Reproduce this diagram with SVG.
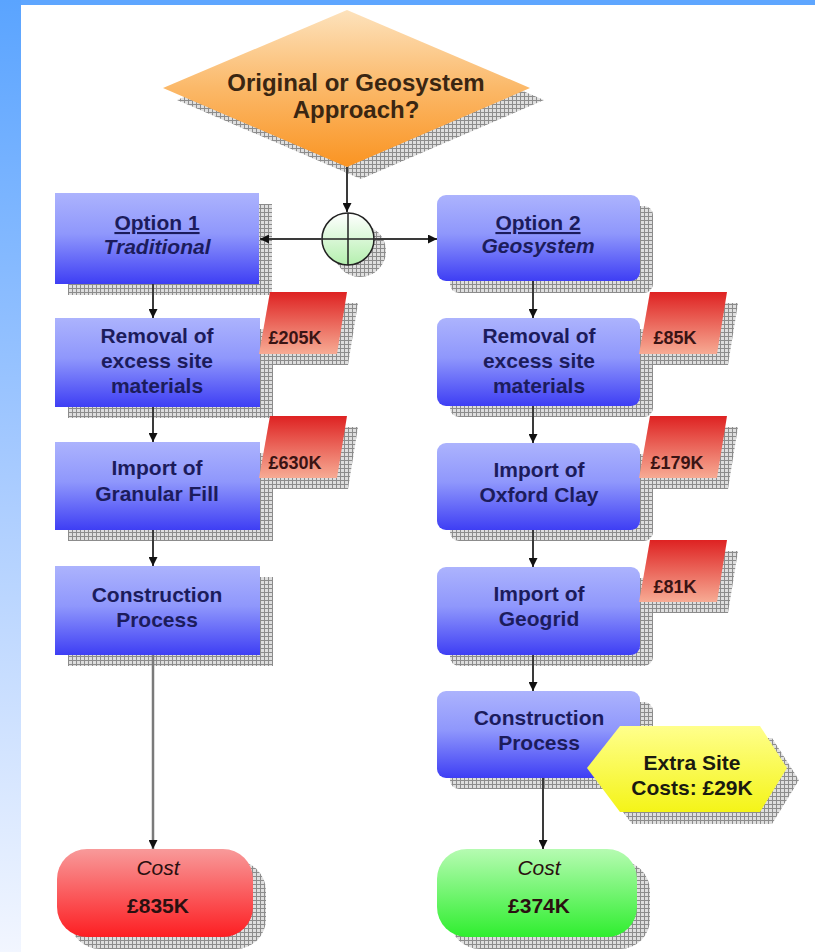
<svg xmlns="http://www.w3.org/2000/svg" width="815" height="952" viewBox="0 0 815 952">
<defs>
<linearGradient id="side" x1="0" y1="0" x2="0" y2="1"><stop offset="0" stop-color="#5aa4ff"/><stop offset="0.5" stop-color="#a8cbff"/><stop offset="1" stop-color="#f2f6ff"/></linearGradient>
<linearGradient id="blue" x1="0" y1="0" x2="0" y2="1"><stop offset="0" stop-color="#acb3fd"/><stop offset="0.45" stop-color="#8f97fc"/><stop offset="1" stop-color="#3e3ef4"/></linearGradient>
<linearGradient id="orange" x1="0" y1="0" x2="0" y2="1"><stop offset="0" stop-color="#fde2bc"/><stop offset="0.5" stop-color="#fbb868"/><stop offset="1" stop-color="#fa9422"/></linearGradient>
<linearGradient id="tag" x1="0" y1="0" x2="0" y2="1"><stop offset="0" stop-color="#de2222"/><stop offset="1" stop-color="#f7ab94"/></linearGradient>
<linearGradient id="red" x1="0" y1="0" x2="0" y2="1"><stop offset="0" stop-color="#f89a9a"/><stop offset="1" stop-color="#fd1e22"/></linearGradient>
<linearGradient id="green" x1="0" y1="0" x2="0" y2="1"><stop offset="0" stop-color="#b6fbb2"/><stop offset="1" stop-color="#2fee2f"/></linearGradient>
<linearGradient id="yellow" x1="0" y1="0" x2="0" y2="1"><stop offset="0" stop-color="#ffff8c"/><stop offset="1" stop-color="#f4f418"/></linearGradient>
<linearGradient id="circ" x1="0" y1="0" x2="0" y2="1"><stop offset="0" stop-color="#ffffff"/><stop offset="1" stop-color="#b4efae"/></linearGradient>
<pattern id="grid" width="4" height="4" patternUnits="userSpaceOnUse"><rect width="4" height="4" fill="#dedede"/><path d="M0 0.5H4M0.5 0V4" stroke="#8c8c8c" stroke-width="1"/></pattern>
<marker id="arr" viewBox="0 0 10 10" refX="10" refY="5" markerWidth="9" markerHeight="9" markerUnits="userSpaceOnUse" orient="auto"><path d="M0 0L10 5L0 10z" fill="#111"/></marker>
<style>
.sh{fill:url(#grid)}
.box{fill:url(#blue)}
.bt{font-family:"Liberation Sans",Arial,sans-serif;font-weight:bold;font-size:21px;fill:#1c1c5c;text-anchor:middle}
.it{font-style:italic}
.ul{text-decoration:underline}
.dt{font-family:"Liberation Sans",Arial,sans-serif;font-weight:bold;font-size:24px;fill:#3a2612;text-anchor:middle}
.tg{fill:url(#tag)}
.tt{font-family:"Liberation Sans",Arial,sans-serif;font-weight:bold;font-size:18px;fill:#3a1414;text-anchor:middle}
.ct{font-family:"Liberation Sans",Arial,sans-serif;font-size:21px;fill:#2a1010;text-anchor:middle}
.ht{font-family:"Liberation Sans",Arial,sans-serif;font-weight:bold;font-size:21px;fill:#1a1a10;text-anchor:middle}
.ln{stroke:#3a3a3a;stroke-width:2;fill:none}
</style>
</defs>
<rect width="815" height="952" fill="#ffffff"/>
<rect x="0" y="0" width="815" height="5" fill="#5ea6ff"/>
<rect x="0" y="0" width="21" height="952" fill="url(#side)"/>

<g id="decision">
<polygon class="sh" points="177,100 361,22 544,100 361,179"/>
<polygon points="163,88 347,10 530,88 347,167" fill="url(#orange)"/>
<text class="dt" x="356" y="91">Original or Geosystem</text>
<text class="dt" x="356" y="118">Approach?</text>
</g>

<g id="junction">
<circle class="sh" cx="360" cy="251" r="26"/>
<circle cx="348" cy="239" r="26" fill="url(#circ)" stroke="#222" stroke-width="1.5"/>
<path d="M322 239H374M348 213V265" stroke="#222" stroke-width="1.5"/>
</g>

<g id="opt1">
<rect class="sh" x="68" y="204" width="204" height="91"/>
<rect class="box" x="55" y="193" width="204" height="91"/>
<text class="bt ul" x="157" y="230">Option 1</text>
<text class="bt it" x="157" y="254">Traditional</text>
</g>
<g id="rem1">
<rect class="sh" x="68" y="329" width="205" height="89"/>
<rect class="box" x="55" y="318" width="205" height="89"/>
<text class="bt" x="157" y="343">Removal of</text>
<text class="bt" x="157" y="368">excess site</text>
<text class="bt" x="157" y="393">materials</text>
</g>
<g id="tag1">
<polygon class="sh" points="281,303 358,303 348,365 270,365"/>
<polygon class="tg" points="270,292 347,292 337,354 259,354"/>
<text class="tt" x="295" y="344">£205K</text>
</g>
<g id="imp1">
<rect class="sh" x="68" y="453" width="205" height="88"/>
<rect class="box" x="55" y="442" width="205" height="88"/>
<text class="bt" x="157" y="475">Import of</text>
<text class="bt" x="157" y="501">Granular Fill</text>
</g>
<g id="tag2">
<polygon class="sh" points="281,427 358,427 348,489 270,489"/>
<polygon class="tg" points="270,416 347,416 337,478 259,478"/>
<text class="tt" x="295" y="469">£630K</text>
</g>
<g id="con1">
<rect class="sh" x="68" y="577" width="205" height="89"/>
<rect class="box" x="55" y="566" width="205" height="89"/>
<text class="bt" x="157" y="602">Construction</text>
<text class="bt" x="157" y="627">Process</text>
</g>
<g id="cost1">
<rect class="sh" x="70" y="861" width="196" height="88" rx="30"/>
<rect x="57" y="849" width="196" height="88" rx="30" fill="url(#red)"/>
<text class="ct it" x="158" y="875">Cost</text>
<text class="ct" x="158" y="913" font-weight="bold">£835K</text>
</g>

<g id="opt2">
<rect class="sh" x="450" y="206" width="203" height="87" rx="9"/>
<rect class="box" x="437" y="195" width="203" height="86" rx="9"/>
<text class="bt ul" x="538" y="230">Option 2</text>
<text class="bt it" x="538" y="253">Geosystem</text>
</g>
<g id="rem2">
<rect class="sh" x="450" y="329" width="203" height="88" rx="9"/>
<rect class="box" x="437" y="318" width="203" height="88" rx="9"/>
<text class="bt" x="539" y="343">Removal of</text>
<text class="bt" x="539" y="368">excess site</text>
<text class="bt" x="539" y="393">materials</text>
</g>
<g id="tag3">
<polygon class="sh" points="661,303 738,303 728,365 650,365"/>
<polygon class="tg" points="650,292 727,292 717,354 639,354"/>
<text class="tt" x="675" y="344">£85K</text>
</g>
<g id="imp2">
<rect class="sh" x="450" y="454" width="203" height="87" rx="9"/>
<rect class="box" x="437" y="443" width="203" height="87" rx="9"/>
<text class="bt" x="539" y="477">Import of</text>
<text class="bt" x="539" y="502">Oxford Clay</text>
</g>
<g id="tag4">
<polygon class="sh" points="661,427 738,427 728,489 650,489"/>
<polygon class="tg" points="650,416 727,416 717,478 639,478"/>
<text class="tt" x="677" y="469">£179K</text>
</g>
<g id="geo2">
<rect class="sh" x="450" y="578" width="203" height="88" rx="9"/>
<rect class="box" x="437" y="567" width="203" height="88" rx="9"/>
<text class="bt" x="539" y="601">Import of</text>
<text class="bt" x="539" y="626">Geogrid</text>
</g>
<g id="tag5">
<polygon class="sh" points="661,551 738,551 728,613 650,613"/>
<polygon class="tg" points="650,540 727,540 717,602 639,602"/>
<text class="tt" x="675" y="593">£81K</text>
</g>
<g id="con2">
<rect class="sh" x="450" y="702" width="203" height="87" rx="9"/>
<rect class="box" x="437" y="691" width="203" height="87" rx="9"/>
<text class="bt" x="539" y="725">Construction</text>
<text class="bt" x="539" y="750">Process</text>
</g>
<g id="extra">
<polygon class="sh" points="599,780 632,738 772,738 799,780 772,824 632,824"/>
<polygon points="587,768 620,726 760,726 787,768 760,812 620,812" fill="url(#yellow)"/>
<text class="ht" x="692" y="770">Extra Site</text>
<text class="ht" x="692" y="795">Costs: £29K</text>
</g>
<g id="cost2">
<rect class="sh" x="450" y="861" width="200" height="88" rx="30"/>
<rect x="437" y="849" width="200" height="88" rx="30" fill="url(#green)"/>
<text class="ct it" x="539" y="875">Cost</text>
<text class="ct" x="539" y="913" font-weight="bold">£374K</text>
</g>

<g id="connectors">
<path class="ln" d="M347 167V212" marker-end="url(#arr)"/>
<path class="ln" d="M322 239H260" marker-end="url(#arr)"/>
<path class="ln" d="M374 239H437" marker-end="url(#arr)"/>
<path class="ln" d="M153 284V318" marker-end="url(#arr)"/>
<path class="ln" d="M153 407V442" marker-end="url(#arr)"/>
<path class="ln" d="M153 530V566" marker-end="url(#arr)"/>
<path class="ln" d="M153 655V849" stroke="#7a7a7a" style="stroke:#7a7a7a;stroke-width:2.5" marker-end="url(#arr)"/>
<path class="ln" d="M533 281V318" marker-end="url(#arr)"/>
<path class="ln" d="M533 406V443" marker-end="url(#arr)"/>
<path class="ln" d="M533 530V567" marker-end="url(#arr)"/>
<path class="ln" d="M533 655V691" marker-end="url(#arr)"/>
<path class="ln" d="M543 778V849" marker-end="url(#arr)"/>
</g>
</svg>
